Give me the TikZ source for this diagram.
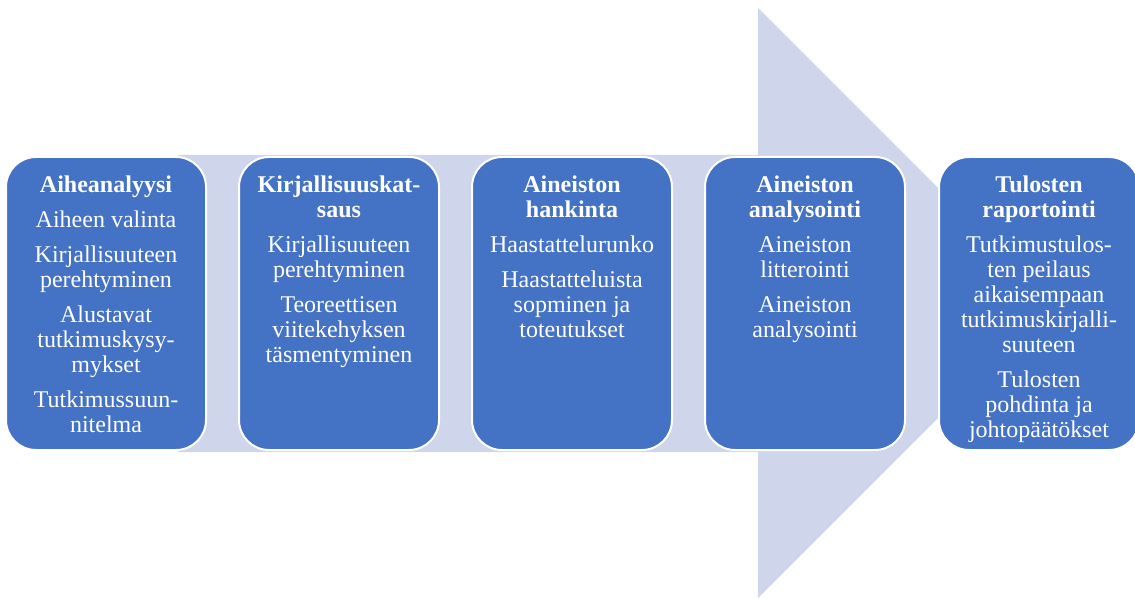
\documentclass[tikz,border=0pt]{standalone}
\usepackage{fontspec}
\setmainfont{Liberation Serif}
\definecolor{lav}{HTML}{CFD5EA}
\definecolor{stageblue}{HTML}{4472C4}
\tikzset{
  stage/.style={fill=stageblue, draw=white, line width=2pt, rounded corners=30pt,
    minimum width=200pt, minimum height=293pt, inner sep=0pt},
  stagetext/.style={anchor=north, align=center, text=white, inner sep=0pt,
    font=\fontsize{24}{25}\selectfont}
}
\begin{document}
\begin{tikzpicture}[x=1pt,y=-1pt]
\useasboundingbox (0,0) rectangle (1135,599);
\clip (0,0) rectangle (1135,599);
\fill[lav] (178,155) -- (758,155) -- (758,8) -- (1053,303) -- (758,598) -- (758,452) -- (178,452) -- cycle;

\node[stage] (b1) at (106,303.5) {};
\node[stage] (b2) at (339,303.5) {};
\node[stage] (b3) at (572,303.5) {};
\node[stage] (b4) at (805,303.5) {};
\node[stage] (b5) at (1039,303.5) {};

\node[stagetext] (t1) at ([yshift=-20pt]b1.north) {\textbf{Aiheanalyysi}\\[10pt]Aiheen valinta\\[10pt]Kirjallisuuteen\\perehtyminen\\[10pt]Alustavat\\tutkimuskysy-\\mykset\\[10pt]Tutkimussuun-\\nitelma};
\node[stagetext] (t2) at ([yshift=-20pt]b2.north) {\textbf{Kirjallisuuskat-}\\\textbf{saus}\\[10pt]Kirjallisuuteen\\perehtyminen\\[10pt]Teoreettisen\\viitekehyksen\\täsmentyminen};
\node[stagetext] (t3) at ([yshift=-20pt]b3.north) {\textbf{Aineiston}\\\textbf{hankinta}\\[10pt]Haastattelurunko\\[10pt]Haastatteluista\\sopminen ja\\toteutukset};
\node[stagetext] (t4) at ([yshift=-20pt]b4.north) {\textbf{Aineiston}\\\textbf{analysointi}\\[10pt]Aineiston\\litterointi\\[10pt]Aineiston\\analysointi};
\node[stagetext] (t5) at ([yshift=-20pt]b5.north) {\textbf{Tulosten}\\\textbf{raportointi}\\[10pt]Tutkimustulos-\\ten peilaus\\aikaisempaan\\tutkimuskirjalli-\\suuteen\\[10pt]Tulosten\\pohdinta ja\\johtopäätökset};
\end{tikzpicture}
\end{document}
